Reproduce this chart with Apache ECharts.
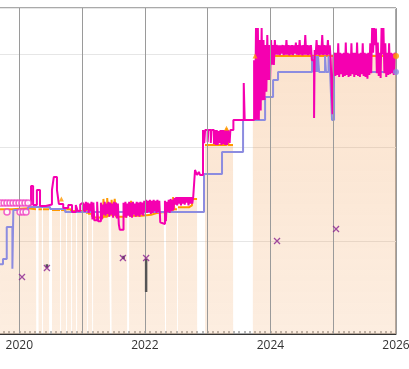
<!DOCTYPE html>
<html>
<head>
<meta charset="utf-8">
<script src="https://cdn.jsdelivr.net/npm/echarts@6/dist/echarts.min.js"></script>
<style>html,body{margin:0;padding:0;background:#fff;}#c{width:409px;height:369px;}</style>
</head>
<body>
<div id="c"></div>
<script>
// ---- data (x = decimal year, y = price) ----
var xLabelYears = [2020, 2022, 2024, 2026];
var yearLines = [2020, 2021, 2022, 2023, 2024, 2025, 2026];

var amazonPrice = [
 [2019.693,13.4],[2019.884,13.5],[2020.139,13.4],[2020.266,13.4],[2020.27,null],[2020.306,13.4],[2020.36,13.4],[2020.362,null],
 [2020.378,13.4],[2020.473,13.4],[2020.475,null],[2020.521,13.3],[2020.649,13.3],[2020.65,null],[2020.665,13.3],[2020.744,13.4],
 [2020.745,null],[2020.76,13.4],[2020.824,13.2],[2020.825,null],[2020.84,13.2],[2020.904,13.2],[2020.905,null],[2020.92,13.2],
 [2021.079,12.9],[2021.08,null],[2021.095,12.9],[2021.158,12.6],[2021.16,null],[2021.175,12.5],[2021.34,14.5],[2021.36,12.6],
 [2021.40,14.6],[2021.42,12.7],[2021.445,12.7],[2021.447,null],[2021.462,12.7],[2021.47,14.4],[2021.49,12.6],[2021.52,14.5],
 [2021.54,12.6],[2021.6,12.6],[2021.716,12.6],[2021.718,null],[2021.748,12.7],[2021.78,14.3],[2021.80,12.7],[2021.95,12.8],
 [2022.1,13.0],[2022.2,13.1],[2022.3,13.0],[2022.321,13.0],[2022.323,null],[2022.337,13.1],[2022.4,13.3],[2022.45,14.7],
 [2022.47,13.4],[2022.512,13.4],[2022.514,null],[2022.528,13.6],[2022.7,13.8],[2022.75,14.5],[2022.831,14.5],[2022.833,null],
 [2022.958,20.3],[2023.25,20.3],[2023.3,22.1],[2023.33,20.3],[2023.404,20.3],[2023.406,null],[2023.72,22.98],[2023.8,29.85],
 [2026.0,29.85]
];

var usedPrice = [
 [2019.693,7.5],[2019.74,8.05],[2019.80,11.5],[2019.89,7.0],[2019.905,13.3],[2020.139,13.64],[2020.49,13.42],[2020.73,13.1],
 [2022.942,17.18],[2023.229,19.54],[2023.564,22.98],[2023.915,25.45],[2024.042,27.27],[2024.121,28.13],[2024.663,29.85],
 [2024.68,28.13],[2024.69,29.85],[2024.70,28.13],[2024.71,29.85],[2024.72,28.13],[2024.73,29.85],[2024.745,28.13],
 [2024.758,29.85],[2024.775,28.13],[2024.87,29.85],[2024.885,28.13],[2024.925,29.85],[2024.95,28.13],[2024.981,22.98],
 [2025.013,28.13],[2026.0,28.13]
];

var newPrice2020 = [
 [2020.139,13.85],[2020.187,15.9],[2020.22,13.85],[2020.28,15.46],[2020.33,13.74],[2020.42,13.9],[2020.52,15.46],[2020.55,16.86],
 [2020.6,15.46],[2020.63,13.96],[2020.70,13.53],[2020.78,13.85],[2020.84,13.1],[2020.9,13.85],[2020.93,13.2],[2020.97,13.9]
];

var newPrice2021 = [
 [2021.00,14.1],[2021.015,13.2],[2021.03,14.0],[2021.045,13.1],[2021.06,14.2],[2021.075,13.3],[2021.09,14.1],[2021.105,13.0],
 [2021.12,14.0],[2021.135,13.2],[2021.15,14.2],[2021.165,12.3],[2021.18,14.1],[2021.195,12.2],[2021.24,14.2],[2021.255,12.1],
 [2021.3,14.1],[2021.315,12.3],[2021.33,13.9],[2021.345,12.8],[2021.36,14.2],[2021.375,12.7],[2021.39,14.0],[2021.405,12.9],
 [2021.42,14.2],[2021.435,12.6],[2021.45,14.1],[2021.465,12.8],[2021.48,14.0],[2021.495,12.5],[2021.51,14.2],[2021.525,12.7],
 [2021.54,14.1],[2021.555,12.4],[2021.57,14.0],[2021.585,11.8],[2021.6,11.2],[2021.66,14.1],[2021.675,12.6],[2021.69,14.2],
 [2021.705,12.5],[2021.72,14.0],[2021.735,12.7],[2021.75,14.2],[2021.765,12.6],[2021.78,14.1],[2021.795,12.5],[2021.81,14.2],
 [2021.825,12.8],[2021.84,14.0],[2021.855,12.6],[2021.87,14.2],[2021.885,12.7],[2021.9,14.1],[2021.915,12.6],[2021.93,14.2],
 [2021.945,12.8],[2021.96,14.1],[2021.975,12.7],[2021.99,14.3]
];

var newPrice2022 = [
 [2022.005,13.1],[2022.02,14.4],[2022.035,13.0],[2022.05,14.3],[2022.065,13.1],[2022.08,14.4],[2022.095,12.9],[2022.11,14.3],
 [2022.125,13.0],[2022.14,14.4],[2022.155,13.2],[2022.17,14.3],[2022.185,13.0],[2022.2,14.4],[2022.215,13.1],[2022.23,14.3],
 [2022.245,12.0],[2022.26,11.8],[2022.32,14.3],[2022.335,12.1],[2022.35,14.2],[2022.365,13.1],[2022.38,14.4],[2022.395,13.0],
 [2022.41,14.5],[2022.425,13.2],[2022.44,14.4],[2022.455,13.3],[2022.47,14.6],[2022.485,13.9],[2022.5,14.7],[2022.515,13.8],
 [2022.53,14.7],[2022.545,14.0],[2022.56,14.7],[2022.575,13.8],[2022.59,14.7],[2022.605,14.0],[2022.62,14.7],[2022.635,13.9],
 [2022.65,14.7],[2022.665,14.1],[2022.68,14.7],[2022.695,13.8],[2022.71,14.7],[2022.725,14.0],[2022.74,14.7],[2022.755,14.0],
 [2022.77,14.7],[2022.799,17.61],[2022.83,17.07],[2022.86,17.4],[2022.88,17.07],[2022.926,21.9],[2022.945,20.5],[2022.96,21.9]
];

var newPrice2023 = [
 [2023.0,20.6],[2023.012,21.9],[2023.05,20.5],[2023.062,21.9],[2023.1,20.4],[2023.115,21.9],[2023.13,20.3],[2023.145,21.9],
 [2023.16,20.3],[2023.175,21.8],[2023.19,20.5],[2023.205,21.9],[2023.22,20.3],[2023.235,21.9],[2023.25,20.4],[2023.265,21.9],
 [2023.28,20.3],[2023.295,21.9],[2023.31,20.3],[2023.325,21.9],[2023.35,20.5],[2023.362,21.9],
 [2023.41,22.98],[2023.575,26.95],[2023.59,22.98],[2023.74,29.4],[2023.755,22.98],[2023.77,32.85],[2023.785,23.0],[2023.8,32.85],
 [2023.815,22.98],[2023.83,31.57],[2023.845,24.0],[2023.86,32.85],[2023.875,25.1],[2023.89,31.57],[2023.905,25.12],[2023.92,31.03],
 [2023.935,26.0],[2023.95,32.1],[2023.965,27.27],[2023.98,31.03],[2023.995,27.27]
];

var newPrice2024 = [
 [2024.01,31.57],[2024.025,28.9],[2024.04,31.03],[2024.055,28.88],[2024.07,31.57],[2024.085,30.0],[2024.1,31.03],[2024.12,30.0],
 [2024.135,31.0],[2024.15,29.95],[2024.165,31.0],[2024.18,30.1],[2024.195,31.03],[2024.21,29.95],[2024.225,31.0],[2024.24,30.0],
 [2024.255,31.57],[2024.27,30.0],[2024.285,31.03],[2024.3,29.9],[2024.315,31.0],[2024.33,30.0],[2024.345,31.03],[2024.36,29.95],
 [2024.375,31.0],[2024.39,30.1],[2024.405,31.3],[2024.42,30.0],[2024.435,31.03],[2024.45,29.95],[2024.465,31.57],[2024.48,30.0],
 [2024.495,31.0],[2024.51,29.9],[2024.525,31.03],[2024.54,30.0],[2024.555,32.1],[2024.57,30.0],[2024.585,31.03],[2024.6,29.95],
 [2024.615,31.0],[2024.63,30.0],[2024.645,31.03],[2024.66,29.4],[2024.695,23.19],[2024.705,30.5],[2024.72,29.95],[2024.735,31.57],
 [2024.75,30.0],[2024.765,31.03],[2024.78,29.9],[2024.795,31.0],[2024.81,30.0],[2024.825,32.1],[2024.84,29.95],[2024.855,31.03],
 [2024.87,30.0],[2024.885,31.0],[2024.9,29.9],[2024.915,31.57],[2024.93,30.0],[2024.945,31.0],[2024.96,29.4],[2024.99,23.6]
];

var newPrice2025 = [
 [2025.005,29.9],[2025.02,30.2],[2025.035,27.7],[2025.05,30.2],[2025.065,27.8],[2025.08,31.2],[2025.095,27.6],[2025.11,30.2],
 [2025.125,27.9],[2025.14,30.1],[2025.155,27.6],[2025.17,30.2],[2025.185,27.7],[2025.2,31.3],[2025.215,27.8],[2025.23,30.2],
 [2025.245,27.6],[2025.26,30.1],[2025.275,27.7],[2025.29,31.2],[2025.305,27.9],[2025.32,30.2],[2025.335,27.6],[2025.35,30.2],
 [2025.365,27.8],[2025.38,31.3],[2025.395,27.7],[2025.41,30.1],[2025.425,27.6],[2025.44,30.2],[2025.455,27.9],[2025.47,31.2],
 [2025.485,27.7],[2025.5,30.2],[2025.515,27.6],[2025.53,30.1],[2025.545,27.4],[2025.56,30.2],[2025.575,27.8],[2025.59,31.2],
 [2025.605,28.0],[2025.62,32.85],[2025.635,30.2],[2025.65,32.85],[2025.665,31.0],[2025.68,32.8],[2025.695,28.0],[2025.71,31.3],
 [2025.725,27.7],[2025.74,30.2],[2025.755,27.5],[2025.77,32.85],[2025.785,30.0],[2025.8,32.85],[2025.815,28.0],[2025.83,31.2],
 [2025.845,27.6],[2025.86,30.2],[2025.875,27.8],[2025.89,31.2],[2025.905,27.9],[2025.92,30.2],[2025.935,28.0],[2025.95,30.1],
 [2025.965,27.8],[2025.98,30.2],[2025.995,29.9],[2026.0,29.9]
];

var newPrice = newPrice2020.concat(newPrice2021, newPrice2022, newPrice2023, newPrice2024, newPrice2025);

var collectibleOffers = [
 [2019.709,14.06],[2019.757,14.06],[2019.804,14.06],[2019.852,14.06],[2019.9,14.06],[2019.948,14.06],[2019.996,14.06],
 [2020.043,14.06],[2020.091,14.06],[2020.139,14.06],[2019.804,13.1],[2020.012,13.1],[2020.06,13.1],[2020.107,13.1]
];

var dealMarks = [[2020.043,6.12],[2020.44,7.09],[2021.65,8.16],[2022.02,8.16],[2024.105,9.98],[2025.045,11.27]];

var warehouse = [[2020.44,7.5],[2020.44,7.1],[2020.441,null],[2021.66,8.4],[2021.66,8.05],[2021.661,null],[2022.02,8.05],[2022.02,4.5]];

var amazonSpikes = [[2023.3,22.1],[2023.755,29.85],[2020.67,14.5]];

var endAmazon = [[2026.0,29.85]];
var endUsed = [[2026.0,28.13]];

// ---- chart ----
var X_MIN = 2019.613, X_MAX = 2026;
var monthTicks = [];
for (var yy = 2019; yy <= 2026; yy++) {
  for (var m = 0; m < 12; m++) {
    var v = yy + m / 12;
    if (v >= X_MIN && v <= X_MAX) monthTicks.push(v);
  }
}

var chart = echarts.init(document.getElementById('c'), null, {renderer: 'canvas'});
chart.setOption({
  animation: false,
  grid: {left: -5, right: 13, top: 8, bottom: 35, outerBoundsMode: 'none', containLabel: false,
    show: true, borderColor: '#555', borderWidth: 1, backgroundColor: 'transparent'},
  xAxis: {
    type: 'value', min: X_MIN, max: X_MAX,
    axisLine: {show: true, lineStyle: {color: '#333', width: 1}},
    axisTick: {show: true, inside: true, length: 3, customValues: monthTicks, lineStyle: {color: '#a0a0a0', width: 1.5}},
    axisLabel: {show: true, customValues: xLabelYears, color: '#333', fontSize: 12, fontFamily: 'Open Sans', margin: 6,
      hideOverlap: false, formatter: function (v) { return String(Math.round(v)); }},
    splitLine: {show: false}
  },
  yAxis: {
    type: 'value', min: 0, max: 35, interval: 10,
    axisLine: {show: false}, axisTick: {show: false}, axisLabel: {show: false},
    splitLine: {show: true, lineStyle: {color: '#e6e6e6', width: 1}}
  },
  series: [
    {
      name: 'Amazon', type: 'line', step: 'end', data: amazonPrice, showSymbol: false, connectNulls: false, z: 1,
      lineStyle: {color: '#ff9900', width: 2},
      areaStyle: {color: new echarts.graphic.LinearGradient(0, 0, 0, 1, [
        {offset: 0, color: 'rgba(240,150,70,0.38)'}, {offset: 1, color: 'rgba(240,150,70,0.24)'}])}
    },
    {
      name: 'years', type: 'line', data: [], z: 2, silent: true,
      markLine: {symbol: 'none', silent: true, label: {show: false},
        lineStyle: {color: '#9a9a9a', width: 1, type: 'solid'},
        data: yearLines.map(function (y) { return {xAxis: y}; })}
    },
    {
      name: 'Used', type: 'line', step: 'end', data: usedPrice, showSymbol: false, z: 3,
      lineStyle: {color: '#8c8ce0', width: 2}
    },
    {
      name: 'New', type: 'line', step: 'end', data: newPrice, showSymbol: false, z: 4,
      lineStyle: {color: '#f500b0', width: 2}
    },
    {
      name: 'Collectible', type: 'scatter', data: collectibleOffers, z: 5, symbol: 'circle', symbolSize: 6,
      itemStyle: {color: '#fff', borderColor: '#f040c0', borderWidth: 1.5}
    },
    {
      name: 'Warehouse', type: 'line', data: warehouse, showSymbol: false, connectNulls: false, z: 5,
      lineStyle: {color: '#555', width: 2.5}
    },
    {
      name: 'Deals', type: 'scatter', data: dealMarks, z: 6, symbol: 'path://M0,0L10,10M10,0L0,10', symbolSize: 6,
      itemStyle: {color: 'none', borderColor: '#8a2090', borderWidth: 1.3}
    },
    {
      name: 'AmazonSpike', type: 'scatter', data: amazonSpikes, z: 6, symbol: 'triangle', symbolSize: 5,
      itemStyle: {color: '#ff9900'}
    },
    {
      name: 'endA', type: 'scatter', data: endAmazon, z: 7, symbolSize: 6, clip: false,
      itemStyle: {color: '#ff9900'}
    },
    {
      name: 'endU', type: 'scatter', data: endUsed, z: 7, symbolSize: 6, clip: false,
      itemStyle: {color: '#8c8ce0'}
    }
  ]
});
</script>
</body>
</html>
